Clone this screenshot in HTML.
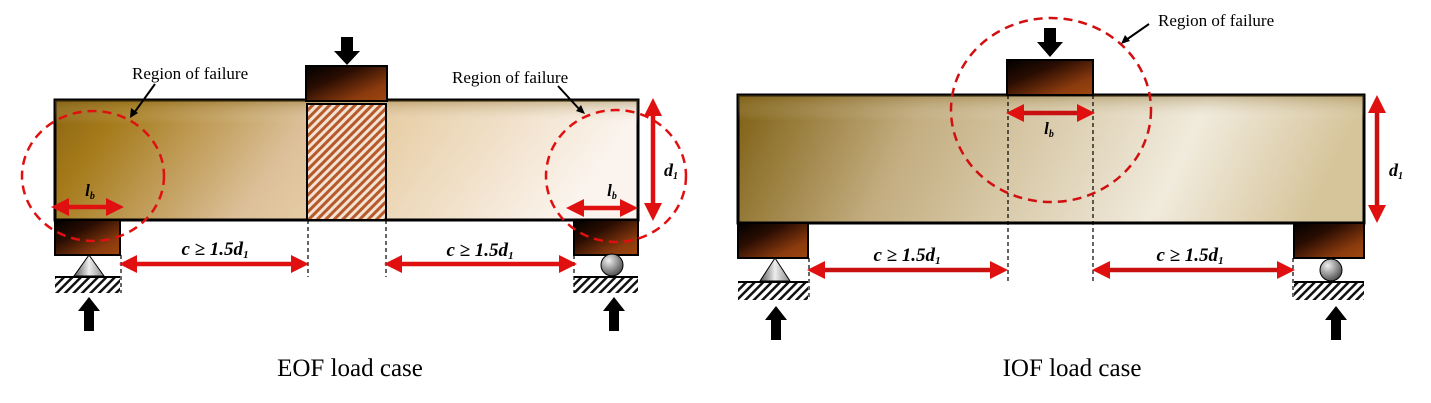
<!DOCTYPE html>
<html><head><meta charset="utf-8"><style>
html,body{margin:0;padding:0;background:#fff}
svg{display:block}
text{font-family:"Liberation Serif",serif}
.lbl{font-style:italic;font-weight:bold;fill:#000}
</style></head><body>
<svg width="1431" height="403" viewBox="0 0 1431 403">
<defs>
<linearGradient id="beamL" x1="0" y1="0" x2="1" y2="0.15">
<stop offset="0" stop-color="#8a6512"/><stop offset="0.12" stop-color="#a57a1a"/><stop offset="0.45" stop-color="#dcc099"/><stop offset="0.6" stop-color="#e8cfa8"/><stop offset="1" stop-color="#fbf4ee"/></linearGradient>
<linearGradient id="beamTop" x1="0" y1="0" x2="0" y2="1">
<stop offset="0" stop-color="#7a5a10" stop-opacity="0.35"/><stop offset="0.2" stop-color="#fff" stop-opacity="0"/></linearGradient>
<linearGradient id="beamR" x1="0" y1="0" x2="1" y2="0.1">
<stop offset="0" stop-color="#7e5f12"/><stop offset="0.3" stop-color="#c3ad80"/><stop offset="0.5" stop-color="#d8c9a8"/><stop offset="0.75" stop-color="#f1ebdd"/><stop offset="1" stop-color="#d6c49a"/></linearGradient>
<linearGradient id="blk" x1="0" y1="0" x2="1" y2="1">
<stop offset="0" stop-color="#000"/><stop offset="0.35" stop-color="#2a0d02"/><stop offset="0.75" stop-color="#8a3a0e"/><stop offset="1" stop-color="#a0480f"/></linearGradient>
<radialGradient id="ball" cx="0.35" cy="0.3" r="0.7"><stop offset="0" stop-color="#f0f0f0"/><stop offset="1" stop-color="#555"/></radialGradient>
<linearGradient id="tri" x1="0" y1="0" x2="1" y2="0"><stop offset="0" stop-color="#555"/><stop offset="0.5" stop-color="#eee"/><stop offset="1" stop-color="#888"/></linearGradient>
<pattern id="hatchR" width="6" height="6" patternUnits="userSpaceOnUse" patternTransform="rotate(45)">
<rect width="6" height="6" fill="#f4e2d4"/><rect width="3" height="6" fill="#b55a2a"/></pattern>
<pattern id="hatchG" width="6" height="6" patternUnits="userSpaceOnUse" patternTransform="rotate(45)">
<rect width="6" height="6" fill="#fff"/><rect width="2.5" height="6" fill="#111"/></pattern>
<marker id="ra" markerWidth="4" markerHeight="4" refX="2" refY="2" orient="auto-start-reverse" markerUnits="strokeWidth"><path d="M0,0 L4,2 L0,4 z" fill="#e01010"/></marker>
</defs>

<g>
<rect x="55" y="100" width="583" height="120" fill="url(#beamL)" stroke="#000" stroke-width="3"/>
<rect x="55" y="100" width="583" height="120" fill="url(#beamTop)"/>
<rect x="307" y="104" width="79" height="116" fill="url(#hatchR)" stroke="#000" stroke-width="2"/>
<rect x="306" y="66" width="81" height="35" fill="url(#blk)" stroke="#000" stroke-width="2"/>
<path d="M341,37 h12 v14 h7 l-13,14 l-13,-14 h7z" fill="#000"/>
<rect x="55" y="220" width="65" height="35" fill="url(#blk)" stroke="#000" stroke-width="2"/>
<rect x="574" y="220" width="64" height="35" fill="url(#blk)" stroke="#000" stroke-width="2"/>
<path d="M89,255 L104,276 L74,276z" fill="url(#tri)" stroke="#000" stroke-width="1"/>
<circle cx="612" cy="265" r="11" fill="url(#ball)" stroke="#000"/>
<rect x="55" y="277" width="65" height="16" fill="url(#hatchG)"/><line x1="55" y1="277" x2="120" y2="277" stroke="#000" stroke-width="2"/>
<rect x="574" y="277" width="64" height="16" fill="url(#hatchG)"/><line x1="574" y1="277" x2="638" y2="277" stroke="#000" stroke-width="2"/>
<path d="M84,331 h10 v-20 h6 l-11,-14 l-11,14 h6z" fill="#000"/>
<path d="M609,331 h10 v-20 h6 l-11,-14 l-11,14 h6z" fill="#000"/>
<g stroke="#000" stroke-dasharray="4,3" stroke-width="1.2">
<line x1="308" y1="220" x2="308" y2="277"/><line x1="386" y1="220" x2="386" y2="277"/>
<line x1="121" y1="255" x2="121" y2="293"/><line x1="574" y1="255" x2="574" y2="293"/></g>
<ellipse cx="93" cy="176" rx="71" ry="65" fill="none" stroke="#e01010" stroke-width="2.5" stroke-dasharray="9,6"/>
<ellipse cx="616" cy="176" rx="70" ry="66" fill="none" stroke="#e01010" stroke-width="2.5" stroke-dasharray="9,6"/>
<g stroke="#e01010" stroke-width="4.5" fill="none" marker-start="url(#ra)" marker-end="url(#ra)">
<line x1="60" y1="207" x2="115" y2="207"/><line x1="575" y1="208" x2="629" y2="208"/>
<line x1="653" y1="107" x2="653" y2="212"/>
<line x1="128" y1="264" x2="300" y2="264"/><line x1="393" y1="264" x2="568" y2="264"/></g>
<text x="90" y="196" class="lbl" font-size="17" text-anchor="middle">l<tspan font-size="10" dy="3">b</tspan></text>
<text x="612" y="196" class="lbl" font-size="17" text-anchor="middle">l<tspan font-size="10" dy="3">b</tspan></text>
<text x="664" y="176" class="lbl" font-size="18">d<tspan font-size="10" dy="3">1</tspan></text>
<text x="215" y="255" class="lbl" font-size="19" text-anchor="middle">c ≥ 1.5d<tspan font-size="11" dy="3">1</tspan></text>
<text x="480" y="256" class="lbl" font-size="19" text-anchor="middle">c ≥ 1.5d<tspan font-size="11" dy="3">1</tspan></text>
<text x="132" y="79" font-size="17">Region of failure</text>
<text x="452" y="83" font-size="17">Region of failure</text>
<g stroke="#000" stroke-width="2"><line x1="155" y1="84" x2="134" y2="113"/><line x1="558" y1="86" x2="580" y2="110"/></g>
<path d="M130,118 l1,-10 l7,5z" fill="#000"/><path d="M585,114 l-9,-3 l5,-6z" fill="#000"/>
<text x="350" y="376" font-size="25" text-anchor="middle">EOF load case</text>
</g>

<g>
<rect x="738" y="95" width="626" height="128" fill="url(#beamR)" stroke="#000" stroke-width="3"/>
<rect x="738" y="95" width="626" height="128" fill="url(#beamTop)"/>
<rect x="1007" y="60" width="86" height="35" fill="url(#blk)" stroke="#000" stroke-width="2"/>
<path d="M1044,28 h12 v14 h7 l-13,15 l-13,-15 h7z" fill="#000"/>
<rect x="738" y="223" width="70" height="35" fill="url(#blk)" stroke="#000" stroke-width="2"/>
<rect x="1294" y="223" width="70" height="35" fill="url(#blk)" stroke="#000" stroke-width="2"/>
<path d="M775,258 L790,281 L760,281z" fill="url(#tri)" stroke="#000"/>
<circle cx="1331" cy="270" r="11" fill="url(#ball)" stroke="#000"/>
<rect x="738" y="282" width="70" height="18" fill="url(#hatchG)"/><line x1="738" y1="282" x2="808" y2="282" stroke="#000" stroke-width="2"/>
<rect x="1294" y="282" width="70" height="18" fill="url(#hatchG)"/><line x1="1294" y1="282" x2="1364" y2="282" stroke="#000" stroke-width="2"/>
<path d="M771,340 h10 v-20 h6 l-11,-14 l-11,14 h6z" fill="#000"/>
<path d="M1331,340 h10 v-20 h6 l-11,-14 l-11,14 h6z" fill="#000"/>
<g stroke="#000" stroke-dasharray="4,3" stroke-width="1.2">
<line x1="1008" y1="95" x2="1008" y2="284"/><line x1="1093" y1="95" x2="1093" y2="284"/>
<line x1="809" y1="258" x2="809" y2="300"/><line x1="1293" y1="258" x2="1293" y2="300"/></g>
<ellipse cx="1051" cy="110" rx="100" ry="92" fill="none" stroke="#d01010" stroke-width="2.5" stroke-dasharray="9,6"/>
<g stroke="#c81010" stroke-width="4.5" fill="none" marker-start="url(#ra)" marker-end="url(#ra)">
<line x1="1015" y1="113" x2="1086" y2="113"/>
<line x1="1377" y1="104" x2="1377" y2="214"/>
<line x1="816" y1="270" x2="999" y2="270"/><line x1="1101" y1="270" x2="1286" y2="270"/></g>
<text x="1049" y="134" class="lbl" font-size="17" text-anchor="middle">l<tspan font-size="10" dy="3">b</tspan></text>
<text x="1389" y="176" class="lbl" font-size="18">d<tspan font-size="10" dy="3">1</tspan></text>
<text x="907" y="261" class="lbl" font-size="19" text-anchor="middle">c ≥ 1.5d<tspan font-size="11" dy="3">1</tspan></text>
<text x="1190" y="261" class="lbl" font-size="19" text-anchor="middle">c ≥ 1.5d<tspan font-size="11" dy="3">1</tspan></text>
<text x="1158" y="26" font-size="17">Region of failure</text>
<line x1="1149" y1="24" x2="1126" y2="40" stroke="#000" stroke-width="2"/><path d="M1121,44 l4,-9 l5,6z" fill="#000"/>
<text x="1072" y="376" font-size="25" text-anchor="middle">IOF load case</text>
</g>
</svg>
</body></html>
